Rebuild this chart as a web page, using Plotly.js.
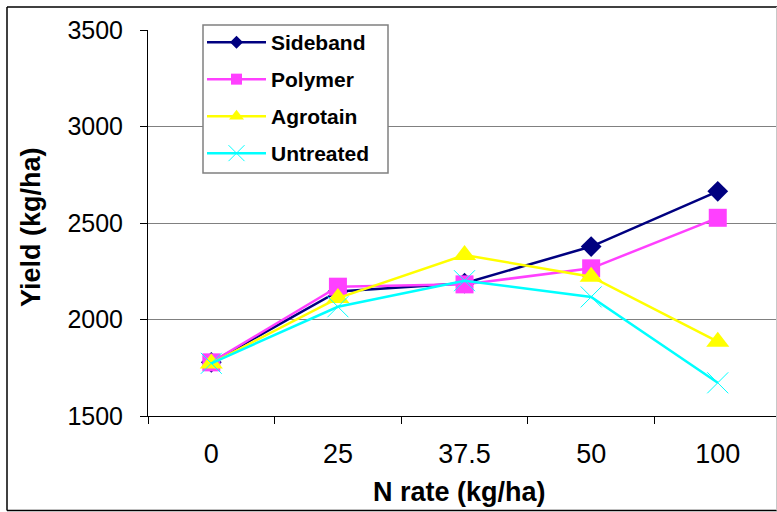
<!DOCTYPE html>
<html>
<head>
<meta charset="utf-8">
<script src="https://cdn.plot.ly/plotly-3.0.1.min.js"></script>
<style>html,body{margin:0;padding:0;background:#fff;}#chart{width:777px;height:512px;}</style>
</head>
<body>
<div id="chart"></div>
<script>
var categories = ['0', '25', '37.5', '50', '100'];
var sideband  = [1778, 2145, 2188, 2378, 2664];
var polymer   = [1778, 2170, 2182, 2265, 2527];
var agrotain  = [1772, 2111, 2334, 2222, 1885];
var untreated = [1773, 2066, 2201, 2117, 1672];
var yTicks = [1500, 2000, 2500, 3000, 3500];
var seriesNames = ['Sideband', 'Polymer', 'Agrotain', 'Untreated'];
var xTitle = 'N rate (kg/ha)';
var yTitle = 'Yield (kg/ha)';

var FONT = 'Liberation Sans, Arial, sans-serif';

var styles = [
  {color: '#000080', symbol: 'diamond', size: 16, lsize: 10, lw: 0},
  {color: '#FF40FF', symbol: 'square', size: 18, lsize: 11, lw: 0},
  {color: '#FFFF00', symbol: 'triangle-up', size: 20, lsize: 13, lw: 0},
  {color: '#00FFFF', symbol: 'x-thin', size: 21, lsize: 16, lw: 1}
];
var series = [sideband, polymer, agrotain, untreated];

var data = [];
// visible data traces
series.forEach(function (y, i) {
  var s = styles[i];
  data.push({
    type: 'scatter', mode: 'lines+markers', name: seriesNames[i],
    x: categories, y: y, showlegend: false,
    line: {color: s.color, width: 2.5},
    marker: {symbol: s.symbol, size: s.size, color: s.color, line: {color: s.color, width: s.lw}}
  });
});
// legend entries (no points drawn; only used for the legend's swatches)
series.forEach(function (y, i) {
  var s = styles[i];
  data.push({
    type: 'scatter', mode: 'lines+markers', name: seriesNames[i],
    x: [categories[0]], y: [null], legendgroup: seriesNames[i], hoverinfo: 'skip',
    line: {color: s.color, width: 2.5},
    marker: {symbol: s.symbol, size: s.lsize, color: s.color, line: {color: s.color, width: s.lw}}
  });
});

// pixel -> paper helpers (plot area: x 148..776, y 30..416)
function px(x) { return (x - 148) / 628; }
function py(y) { return (416 - y) / 386; }

var layout = {
  width: 777, height: 512,
  margin: {l: 148, r: 1, t: 30, b: 96},
  paper_bgcolor: '#fff', plot_bgcolor: '#fff',
  font: {family: FONT, color: '#000'},
  showlegend: true,
  legend: {
    x: px(202), y: py(22), xanchor: 'left', yanchor: 'top',
    bgcolor: 'rgba(0,0,0,0)', borderwidth: 0,
    font: {family: FONT, size: 21, color: '#000', weight: 'bold'},
    itemwidth: 59, itemsizing: 'trace',
    traceorder: 'grouped', tracegroupgap: 6.7
  },
  xaxis: {
    type: 'category', range: [-0.5, 4.46],
    tickson: 'boundaries', ticks: 'outside', ticklen: 7, tickcolor: '#000',
    showline: true, linecolor: '#000', linewidth: 1,
    showgrid: false, zeroline: false,
    tickfont: {family: FONT, size: 27, color: '#000'},
    ticklabelstandoff: 14
  },
  yaxis: {
    range: [1500, 3500], tickvals: yTicks, ticktext: yTicks.map(String),
    ticks: 'outside', ticklen: 7, tickcolor: '#000',
    showline: true, linecolor: '#000', linewidth: 1,
    showgrid: true, gridcolor: '#808080', gridwidth: 1, zeroline: false,
    tickfont: {family: FONT, size: 25, color: '#000'},
    ticklabelstandoff: 12
  },
  annotations: [
    {text: xTitle, xref: 'paper', yref: 'paper', x: px(459), y: py(492),
     xanchor: 'center', yanchor: 'middle', showarrow: false,
     font: {family: FONT, size: 27, weight: 'bold', color: '#000'}},
    {text: yTitle, xref: 'paper', yref: 'paper', x: px(31), y: py(227),
     xanchor: 'center', yanchor: 'middle', showarrow: false, textangle: -90,
     font: {family: FONT, size: 27, weight: 'bold', color: '#000'}}
  ],
  shapes: [
    {type: 'rect', xref: 'paper', yref: 'paper', layer: 'above',
     x0: px(203), x1: px(388), y0: py(173), y1: py(25),
     fillcolor: '#fff', line: {color: '#808080', width: 1.5}},
    {type: 'line', xref: 'paper', yref: 'paper', x0: px(7), x1: px(777), y0: py(7), y1: py(7), line: {color: '#000', width: 1.5}},
    {type: 'line', xref: 'paper', yref: 'paper', x0: px(7), x1: px(777), y0: py(510.5), y1: py(510.5), line: {color: '#000', width: 1.5}},
    {type: 'line', xref: 'paper', yref: 'paper', x0: px(7), x1: px(7), y0: py(7), y1: py(510.5), line: {color: '#000', width: 1.5}},
    {type: 'line', xref: 'paper', yref: 'paper', x0: px(776.5), x1: px(776.5), y0: py(7), y1: py(510.5), line: {color: '#c8c8c8', width: 1}}
  ]
};

Plotly.newPlot('chart', data, layout, {displayModeBar: false, staticPlot: true});
</script>
</body>
</html>
